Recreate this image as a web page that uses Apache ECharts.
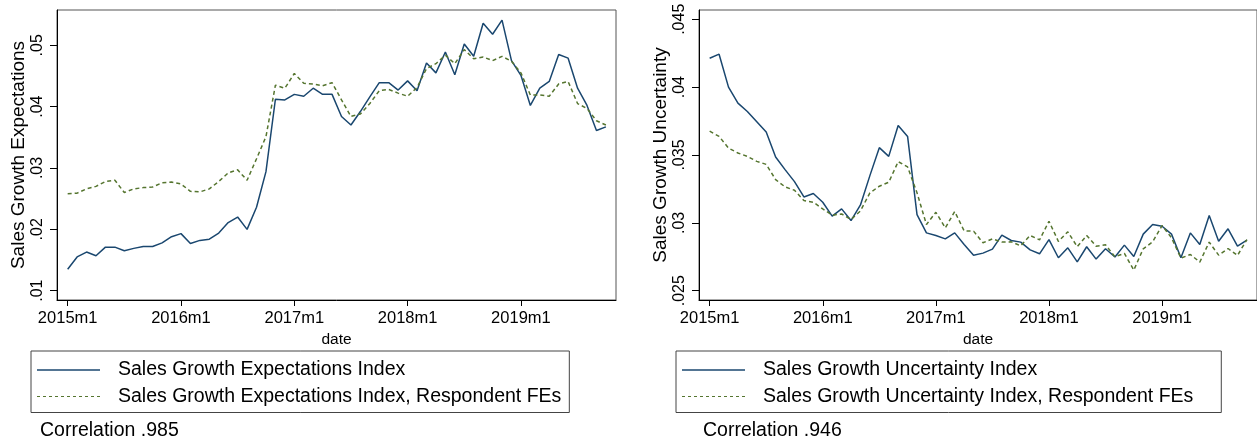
<!DOCTYPE html>
<html><head><meta charset="utf-8">
<script src="https://cdn.jsdelivr.net/npm/echarts@6/dist/echarts.min.js"></script>
<style>html,body{margin:0;padding:0;background:#fff}#c{width:1257px;height:442px}</style>
</head><body><div id="c"></div>
<script>
// ---- data ----
const dates = ["2015m1","2015m2","2015m3","2015m4","2015m5","2015m6","2015m7","2015m8","2015m9","2015m10","2015m11","2015m12",
"2016m1","2016m2","2016m3","2016m4","2016m5","2016m6","2016m7","2016m8","2016m9","2016m10","2016m11","2016m12",
"2017m1","2017m2","2017m3","2017m4","2017m5","2017m6","2017m7","2017m8","2017m9","2017m10","2017m11","2017m12",
"2018m1","2018m2","2018m3","2018m4","2018m5","2018m6","2018m7","2018m8","2018m9","2018m10","2018m11","2018m12",
"2019m1","2019m2","2019m3","2019m4","2019m5","2019m6","2019m7","2019m8","2019m9","2019m10"];
const xTickLabels = ["2015m1","2016m1","2017m1","2018m1","2019m1"];

const expIndex = [0.0135,0.0155,0.0163,0.0157,0.0171,0.0171,0.0165,0.0169,0.0172,0.0172,0.0178,0.0188,
0.0193,0.0177,0.0182,0.0184,0.0194,0.0211,0.0220,0.0200,0.0236,0.0294,0.0412,0.0411,
0.0420,0.0417,0.0430,0.0420,0.0420,0.0384,0.0370,0.0392,0.0416,0.0439,0.0439,0.0427,
0.0442,0.0426,0.0471,0.0455,0.0489,0.0452,0.0502,0.0482,0.0536,0.0518,0.0541,0.0475,
0.0451,0.0402,0.0430,0.0441,0.0485,0.0479,0.0430,0.0402,0.0361,0.0367];
const expIndexFE = [0.0258,0.0259,0.0266,0.0270,0.0278,0.0280,0.0260,0.0266,0.0268,0.0269,0.0276,0.0277,
0.0274,0.0262,0.0261,0.0266,0.0278,0.0292,0.0297,0.0280,0.0315,0.0351,0.0435,0.0430,
0.0454,0.0438,0.0437,0.0434,0.0439,0.0411,0.0384,0.0388,0.0405,0.0426,0.0428,0.0422,
0.0417,0.0431,0.0462,0.0470,0.0484,0.0470,0.0493,0.0478,0.0481,0.0475,0.0482,0.0474,
0.0455,0.0419,0.0419,0.0417,0.0437,0.0441,0.0405,0.0397,0.0377,0.0370];

const uncIndex = [0.04213,0.04243,0.04000,0.03882,0.03821,0.03745,0.03669,0.03485,0.03392,0.03304,0.03191,0.03216,
0.03152,0.03049,0.03103,0.03017,0.03132,0.03348,0.03554,0.03490,0.03718,0.03637,0.03061,0.02926,
0.02907,0.02882,0.02926,0.02841,0.02762,0.02777,0.02806,0.02909,0.02870,0.02858,0.02801,0.02772,
0.02877,0.02743,0.02816,0.02713,0.02824,0.02733,0.02809,0.02748,0.02836,0.02752,0.02917,0.02988,
0.02975,0.02917,0.02743,0.02926,0.02841,0.03054,0.02865,0.02956,0.02828,0.02873];
const uncIndexFE = [0.03676,0.03637,0.03551,0.03515,0.03490,0.03453,0.03431,0.03319,0.03265,0.03240,0.03164,0.03152,
0.03103,0.03056,0.03066,0.03025,0.03088,0.03221,0.03270,0.03299,0.03451,0.03412,0.03221,0.02988,
0.03078,0.02963,0.03083,0.02941,0.02939,0.02853,0.02882,0.02858,0.02860,0.02831,0.02907,0.02875,
0.03012,0.02863,0.02934,0.02824,0.02907,0.02828,0.02838,0.02750,0.02775,0.02652,0.02809,0.02860,
0.02980,0.02890,0.02740,0.02767,0.02711,0.02858,0.02762,0.02811,0.02760,0.02877];

const leftTicks = [0.01,0.02,0.03,0.04,0.05];
const leftTickLabels = [".01",".02",".03",".04",".05"];
const rightTicks = [0.025,0.03,0.035,0.04,0.045];
const rightTickLabels = [".025",".03",".035",".04",".045"];

const names = ["Sales Growth Expectations Index","Sales Growth Expectations Index, Respondent FEs",
               "Sales Growth Uncertainty Index","Sales Growth Uncertainty Index, Respondent FEs"];
const corrTexts = ["Correlation .985","Correlation .946"];

// ---- chart ----
const FONT = '"Liberation Sans", Arial, Helvetica, sans-serif';
const BLUE = '#1a476f', GREEN = '#55752f';
const pairs = arr => arr.map((v,i)=>[i,v]);
const xTickPos = xTickLabels.map(l => dates.indexOf(l));
const dashIcon = 'path://M0,0h3v1h-3zM6,0h3v1h-3zM12,0h3v1h-3zM18,0h3v1h-3zM24,0h3v1h-3zM30,0h3v1h-3zM36,0h3v1h-3zM42,0h3v1h-3zM48,0h3v1h-3zM54,0h3v1h-3zM60,0h3v1h-3z';

function xAx(gi){
  return {type:'value', gridIndex:gi, min:-1.13, max:58.07,
    name:'date', nameLocation:'middle', nameGap:27,
    nameTextStyle:{fontFamily:FONT,fontSize:15.5,color:'#000'},
    axisLine:{show:true,onZero:false,lineStyle:{color:'#000',width:1}},
    axisTick:{show:true,length:6,lineStyle:{color:'#000'},customValues:xTickPos},
    axisLabel:{fontFamily:FONT,fontSize:16.5,color:'#000',margin:10,customValues:xTickPos,
      formatter:v=>dates[Math.round(v)]},
    splitLine:{show:false}};
}
function yAx(gi,min,max,ticks,labels,title){
  return {type:'value', gridIndex:gi, min:min, max:max,
    name:title, nameLocation:'middle', nameGap:29, nameRotate:90,
    nameTextStyle:{fontFamily:FONT,fontSize:19,color:'#000'},
    axisLine:{show:true,onZero:false,lineStyle:{color:'#000',width:1}},
    axisTick:{show:true,length:7,lineStyle:{color:'#000'},customValues:ticks},
    axisLabel:{fontFamily:FONT,fontSize:16,color:'#000',margin:11,rotate:90,customValues:ticks,
      formatter:v=>{const k=ticks.findIndex(t=>Math.abs(t-v)<1e-9);return k>=0?labels[k]:'';}},
    splitLine:{show:false}};
}
function legendFor(li,left,top,padRight){
  return {orient:'vertical', left:left, top:top,
    data:[{name:names[2*li],icon:'rect'},{name:names[2*li+1],icon:dashIcon}],
    itemWidth:63, itemHeight:1.5, itemGap:6.5,
    padding:[9,padRight,6,6], borderColor:'#444', borderWidth:1, backgroundColor:'#fff',
    selectedMode:false,
    textStyle:{fontFamily:FONT,fontSize:19.5,color:'#000',padding:[0,0,0,13]}};
}

const chart = echarts.init(document.getElementById('c'), null, {renderer:'canvas'});
chart.setOption({
  animation:false,
  backgroundColor:'#fff',
  grid:[
    {left:57, top:10, width:559, height:290, show:true, borderColor:'#555', borderWidth:1, backgroundColor:'#fff'},
    {left:699, top:10, width:559, height:290, show:true, borderColor:'#555', borderWidth:1, backgroundColor:'#fff'}
  ],
  xAxis:[xAx(0), xAx(1)],
  yAxis:[
    yAx(0,0.008484,0.05575,leftTicks,leftTickLabels,'Sales Growth Expectations'),
    yAx(1,0.024315,0.045685,rightTicks,rightTickLabels,'Sales Growth Uncertainty')
  ],
  legend:[legendFor(0,31,351,8), legendFor(1,676,351,28)],
  series:[
    {name:names[0],type:'line',xAxisIndex:0,yAxisIndex:0,data:pairs(expIndex),symbol:'none',
      itemStyle:{color:BLUE},lineStyle:{color:BLUE,width:1.5}},
    {name:names[1],type:'line',xAxisIndex:0,yAxisIndex:0,data:pairs(expIndexFE),symbol:'none',
      itemStyle:{color:GREEN},lineStyle:{color:GREEN,width:1.5,type:[4,3]}},
    {name:names[2],type:'line',xAxisIndex:1,yAxisIndex:1,data:pairs(uncIndex),symbol:'none',
      itemStyle:{color:BLUE},lineStyle:{color:BLUE,width:1.5}},
    {name:names[3],type:'line',xAxisIndex:1,yAxisIndex:1,data:pairs(uncIndexFE),symbol:'none',
      itemStyle:{color:GREEN},lineStyle:{color:GREEN,width:1.5,type:[4,3]}}
  ],
  graphic:[
    {type:'text',left:40,top:421,style:{text:corrTexts[0],font:'19.5px '+FONT,fill:'#000'}},
    {type:'text',left:703,top:421,style:{text:corrTexts[1],font:'19.5px '+FONT,fill:'#000'}}
  ]
});
</script></body></html>
